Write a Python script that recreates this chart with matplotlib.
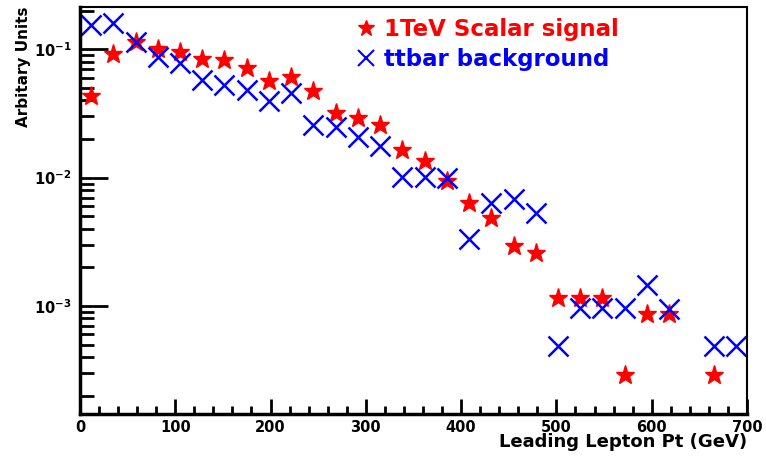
import numpy as np
import matplotlib
matplotlib.use('Agg')
import matplotlib.pyplot as plt
from matplotlib.lines import Line2D
from matplotlib.ticker import MultipleLocator, LogLocator, NullFormatter

plt.rcParams['font.family'] = ['DejaVu Sans']
plt.rcParams['font.weight'] = 'bold'
plt.rcParams['mathtext.default'] = 'bf'

# 30 bins of leading lepton pt, 0-700 GeV
bin_edges = np.linspace(0, 700, 31)
bin_centers = 0.5 * (bin_edges[:-1] + bin_edges[1:])

# normalised entries, nan = empty bin
signal = [0.0434, 0.0916, 0.113, 0.100, 0.095, 0.0842, 0.0827, 0.0721, 0.0568, 0.061,
          0.0474, 0.0318, 0.0294, 0.0257, 0.0165, 0.0134, 0.00946, 0.00634, 0.00484, 0.00292,
          0.00259, 0.00116, 0.00116, 0.00116, 0.000289, 0.000869, 0.000869, np.nan, 0.000289, np.nan]
ttbar = [0.155, 0.161, 0.113, 0.0868, 0.078, 0.0578, 0.0529, 0.0478, 0.0392, 0.0455,
         0.0255, 0.025, 0.0207, 0.0177, 0.0102, 0.0102, 0.00993, 0.00334, 0.00634, 0.00681,
         0.0053, 0.000485, 0.000966, 0.000966, 0.000966, 0.001466, 0.00095, np.nan, 0.000485, 0.000485]

signal_label = '1TeV Scalar signal'
ttbar_label = 'ttbar background'

fig = plt.figure(figsize=(7.66, 4.58), dpi=100)
ax = fig.add_axes([0.1044, 0.096, 0.8708, 0.889])

ax.plot(bin_centers, signal, ls='none', marker='*', ms=14, color='red', mec='red')
ax.plot(bin_centers, ttbar, ls='none', marker='x', ms=14, mew=1.8, color='blue')

ax.set_yscale('log')
ax.set_xlim(0, 700)
ax.set_ylim(1.44e-4, 0.214)

ax.xaxis.set_major_locator(MultipleLocator(100))
ax.xaxis.set_minor_locator(MultipleLocator(20))
ax.yaxis.set_major_locator(LogLocator(base=10, numticks=10))
ax.yaxis.set_minor_locator(LogLocator(base=10, subs=np.arange(2, 10), numticks=20))
ax.yaxis.set_minor_formatter(NullFormatter())

ax.tick_params(axis='both', which='both', direction='in', top=False, right=False)
ax.tick_params(axis='y', which='major', length=20, width=2, labelsize=10.5, pad=6)
ax.tick_params(axis='y', which='minor', length=10, width=2)
ax.tick_params(axis='x', which='major', length=11, width=2, labelsize=10.5, pad=4)
ax.tick_params(axis='x', which='minor', length=6, width=2)
for lab in ax.get_xticklabels() + ax.get_yticklabels():
    lab.set_fontweight('bold')

for side in ['left', 'bottom']:
    ax.spines[side].set_linewidth(2.5)
for side in ['top', 'right']:
    ax.spines[side].set_linewidth(1.5)

ax.set_xlabel('Leading Lepton Pt (GeV)', fontsize=13, fontweight='bold', loc='right', labelpad=-1)
ax.set_ylabel('Arbitary Units', fontsize=11, fontweight='bold', loc='top', labelpad=2)

handles = [Line2D([], [], ls='none', marker='*', ms=12, color='red'),
           Line2D([], [], ls='none', marker='x', ms=12, mew=1.5, color='blue')]
leg = ax.legend(handles, [signal_label, ttbar_label], loc='upper left',
                bbox_to_anchor=(0.395, 1.0), frameon=False, fontsize=16.5,
                handletextpad=0.25, labelspacing=0.3, borderaxespad=0.1, handlelength=1.0,
                labelcolor='linecolor')
for t in leg.get_texts():
    t.set_fontweight('bold')

fig.savefig('out.png', dpi=100)
